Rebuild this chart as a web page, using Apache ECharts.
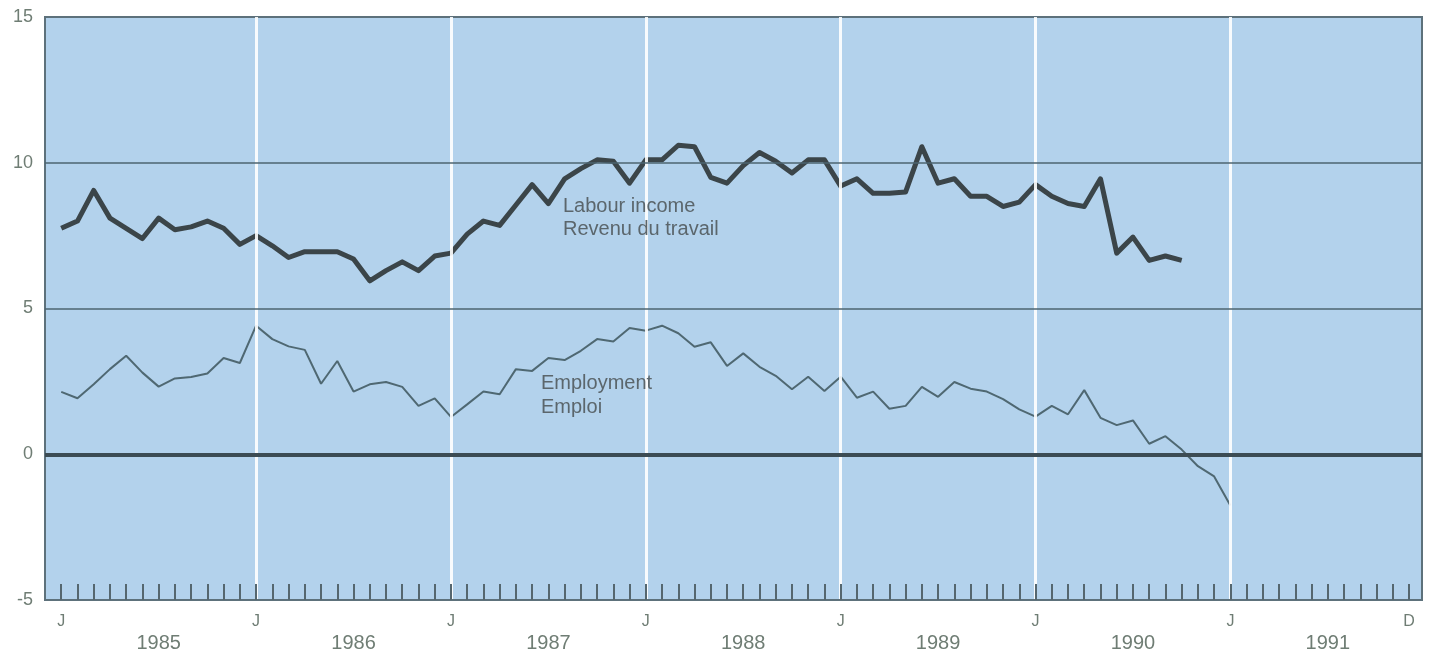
<!DOCTYPE html>
<html><head><meta charset="utf-8">
<script src="https://cdn.jsdelivr.net/npm/echarts@6/dist/echarts.min.js"></script>
<style>html,body{margin:0;padding:0;background:#fff}#c{width:1433px;height:656px}</style>
</head><body><div id="c"></div>
<script>
// Months Jan 1985 .. Dec 1991 (index 0..83)
const years = ['1985','1986','1987','1988','1989','1990','1991'];
const monthLetters = ['J','F','M','A','M','J','J','A','S','O','N','D'];
const yTicks = [-5, 0, 5, 10, 15];

// Labour income, year-over-year % change, Jan 1985 .. Oct 1990
const labourIncome = [7.75, 8.0, 9.05, 8.1, 7.75, 7.4, 8.1, 7.7, 7.8, 8.0, 7.75, 7.2,
  7.5, 7.15, 6.75, 6.95, 6.95, 6.95, 6.7, 5.95, 6.3, 6.6, 6.3, 6.8,
  6.9, 7.55, 8.0, 7.85, 8.55, 9.25, 8.6, 9.45, 9.8, 10.1, 10.05, 9.3,
  10.1, 10.1, 10.6, 10.55, 9.5, 9.3, 9.9, 10.35, 10.05, 9.65, 10.1, 10.1,
  9.2, 9.45, 8.95, 8.95, 9.0, 10.55, 9.3, 9.45, 8.85, 8.85, 8.5, 8.65,
  9.25, 8.85, 8.6, 8.5, 9.45, 6.9, 7.45, 6.65, 6.8, 6.65];

// Employment, year-over-year % change, Jan 1985 .. Jan 1991
const employment = [2.14, 1.92, 2.4, 2.92, 3.38, 2.8, 2.32, 2.6, 2.65, 2.77, 3.3, 3.13,
  4.41, 3.95, 3.7, 3.58, 2.42, 3.2, 2.15, 2.4, 2.48, 2.31, 1.66, 1.92,
  1.28, 1.71, 2.15, 2.06, 2.92, 2.86, 3.3, 3.23, 3.55, 3.95, 3.87, 4.33,
  4.24, 4.41, 4.15, 3.69, 3.84, 3.03, 3.46, 3.0, 2.69, 2.23, 2.66, 2.17,
  2.66, 1.94, 2.15, 1.56, 1.66, 2.31, 1.97, 2.48, 2.25, 2.15, 1.89, 1.54,
  1.29, 1.66, 1.37, 2.2, 1.25, 1.0, 1.16, 0.36, 0.62, 0.16, -0.41, -0.76,
  -1.76];

const nMonths = years.length * 12;
const allMonths = Array.from({length: nMonths}, (_, i) => i);
const janIdx = allMonths.filter(i => i % 12 === 0);
const labelIdx = janIdx.concat([nMonths - 1]);
const yearMid = years.map((_, k) => k * 12 + 6);

const txt = '#6f7d74';
const chart = echarts.init(document.getElementById('c'));
chart.setOption({
  animation: false,
  grid: {left: 45, right: 11, top: 17, bottom: 56, show: true,
         backgroundColor: '#b3d2ec', borderColor: '#5d717b', borderWidth: 2},
  xAxis: [{
    type: 'value', min: -1, max: nMonths - 0.2, z: 6,
    axisLine: {show: true, onZero: false, lineStyle: {color: '#5d717b', width: 2}},
    axisTick: {show: true, inside: true, length: 16, customValues: allMonths,
               lineStyle: {color: '#55676f', width: 2}},
    splitLine: {show: false},
    axisLabel: {customValues: labelIdx, margin: 14, fontSize: 16, color: txt,
                fontFamily: 'Liberation Sans, Arial, sans-serif',
                formatter: v => monthLetters[v % 12]}
  }, {
    type: 'value', min: -1, max: nMonths - 0.2, position: 'bottom', offset: 25,
    axisLine: {show: false, onZero: false}, axisTick: {show: false}, splitLine: {show: false},
    axisLabel: {customValues: yearMid, margin: 8, fontSize: 20, color: txt,
                fontFamily: 'Liberation Sans, Arial, sans-serif',
                formatter: v => years[Math.floor(v / 12)]}
  }],
  yAxis: {
    type: 'value', min: yTicks[0], max: yTicks[yTicks.length - 1], interval: 5,
    axisLine: {show: false}, axisTick: {show: false}, splitLine: {show: false},
    axisLabel: {margin: 12, fontSize: 18, color: txt,
                fontFamily: 'Liberation Sans, Arial, sans-serif'}
  },
  series: [{
    type: 'line', data: [], z: 1, silent: true,
    markLine: {
      silent: true, symbol: 'none', label: {show: false}, animation: false,
      data: janIdx.filter(i => i > 0).map(i => ({xAxis: i,
              lineStyle: {color: 'rgba(255,255,255,0.9)', width: 3, type: 'solid'}}))
        .concat([
          {yAxis: 10, lineStyle: {color: '#4d6470', width: 1.6, type: 'solid'}},
          {yAxis: 5, lineStyle: {color: '#4d6470', width: 1.6, type: 'solid'}},
          {yAxis: 0, lineStyle: {color: '#3c4c54', width: 4, type: 'solid'}}
        ])
    }
  }, {
    name: 'Employment', type: 'line', z: 3, showSymbol: false,
    data: employment.map((v, i) => [i, v]),
    lineStyle: {color: '#4f6872', width: 2}
  }, {
    name: 'Labour income', type: 'line', z: 4, showSymbol: false,
    data: labourIncome.map((v, i) => [i, v]),
    lineStyle: {color: '#3b4549', width: 5, join: 'round'}
  }],
  graphic: [{
    type: 'text', left: 563, top: 195, z: 10,
    style: {text: 'Labour income\nRevenu du travail', fill: '#5b666c', fontSize: 20,
            lineHeight: 23, fontFamily: 'Liberation Sans, Arial, sans-serif'}
  }, {
    type: 'text', left: 541, top: 371, z: 10,
    style: {text: 'Employment\nEmploi', fill: '#5b666c', fontSize: 20,
            lineHeight: 24, fontFamily: 'Liberation Sans, Arial, sans-serif'}
  }]
});
</script></body></html>
